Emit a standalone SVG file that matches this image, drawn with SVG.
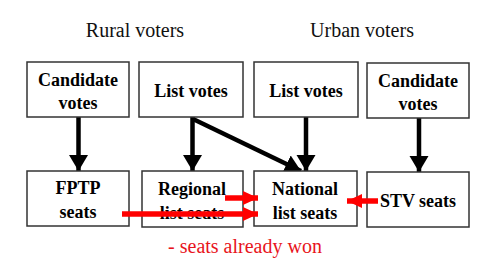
<svg xmlns="http://www.w3.org/2000/svg" width="500" height="278" viewBox="0 0 500 278">
<defs>
<style>
.box{fill:#fff;stroke:#333;stroke-width:1.5}
.t{font-family:'Liberation Serif','Times New Roman',serif;font-weight:bold;font-size:18px;text-anchor:middle;fill:#000}
.h{font-family:'Liberation Serif','Times New Roman',serif;font-size:20px;text-anchor:middle;fill:#111}
.k{stroke:#000;stroke-width:4.5;fill:none}
.r{stroke:#f00;stroke-width:5.5;fill:none}
</style>
<marker id="ah" markerUnits="userSpaceOnUse" markerWidth="16" markerHeight="20" refX="16" refY="10" orient="auto" viewBox="0 0 16 20"><path d="M0,0.5 L16,10 L0,19.5 Z" fill="#000"/></marker>
<marker id="rh" markerUnits="userSpaceOnUse" markerWidth="15" markerHeight="15" refX="15" refY="7.5" orient="auto" viewBox="0 0 15 15"><path d="M0,0.5 L15,7.5 L0,14.5 Z" fill="#f00"/></marker>
</defs>
<rect width="500" height="278" fill="#fff"/>
<text class="h" x="135" y="37">Rural voters</text>
<text class="h" x="362" y="37">Urban voters</text>
<g id="connectors">
<line class="k" x1="78.5" y1="117" x2="78.5" y2="171" marker-end="url(#ah)"/>
<line class="k" x1="192.5" y1="117" x2="192.5" y2="171" marker-end="url(#ah)"/>
<line class="k" x1="193" y1="119" x2="301" y2="171" marker-end="url(#ah)"/>
<line class="k" x1="306" y1="117" x2="306" y2="171" marker-end="url(#ah)"/>
<line class="k" x1="419" y1="118" x2="419" y2="172" marker-end="url(#ah)"/>
</g>
<g id="cand-rural"><rect class="box" x="27" y="62" width="102" height="55"/><text class="t" x="78" y="86">Candidate</text><text class="t" x="78" y="109">votes</text></g>
<g id="list-rural"><rect class="box" x="139" y="62" width="104" height="55"/><text class="t" x="191" y="97">List votes</text></g>
<g id="list-urban"><rect class="box" x="254" y="62" width="104" height="55"/><text class="t" x="306" y="97">List votes</text></g>
<g id="cand-urban"><rect class="box" x="367" y="63" width="102" height="55"/><text class="t" x="418" y="87">Candidate</text><text class="t" x="418" y="110">votes</text></g>
<g id="fptp"><rect class="box" x="27" y="171" width="102" height="55"/><text class="t" x="78" y="194">FPTP</text><text class="t" x="78" y="218">seats</text></g>
<g id="regional"><rect class="box" x="142" y="171" width="101" height="56"/><text class="t" x="192" y="195">Regional</text><text class="t" x="192" y="219">list seats</text></g>
<g id="national"><rect class="box" x="254" y="171" width="103" height="55"/><text class="t" x="305" y="195">National</text><text class="t" x="305" y="219">list seats</text></g>
<g id="stv"><rect class="box" x="367" y="172" width="102" height="55"/><text class="t" x="418" y="207">STV seats</text></g>
<g id="red-connectors">
<line class="r" x1="225" y1="198" x2="258" y2="198" marker-end="url(#rh)"/>
<line class="r" x1="122" y1="214" x2="258" y2="214" marker-end="url(#rh)"/>
<line class="r" x1="378" y1="201" x2="347" y2="201" marker-end="url(#rh)"/>
</g>
<text class="h" x="245" y="253" style="fill:#e8141c">- seats already won</text>
</svg>
